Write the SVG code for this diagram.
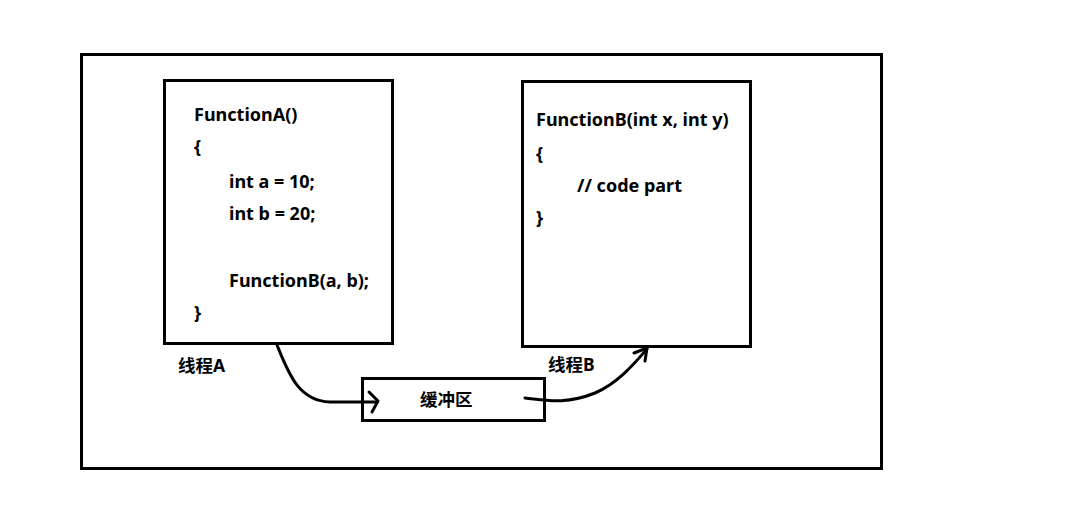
<svg xmlns="http://www.w3.org/2000/svg" width="1066" height="505" viewBox="0 0 1066 505">
<style>
.box{fill:#fff;stroke:#000;stroke-width:3}
.t{font-family:"Noto Sans","Noto Sans CJK SC",sans-serif;font-weight:bold;font-size:18px;fill:#000}
.cj{font-size:17.5px}
.c{fill:none;stroke:#000;stroke-width:3;stroke-linecap:round;stroke-linejoin:round}
</style>
<rect width="1066" height="505" fill="#fff"/>
<g id="frame"><rect class="box" x="81.5" y="54.5" width="800" height="414"/></g>
<g id="funcA">
<rect class="box" x="164.5" y="80.5" width="228" height="263"/>
<text class="t" x="194" y="121">FunctionA()</text>
<text class="t" x="194" y="153">{</text>
<text class="t" x="229" y="188">int a = 10;</text>
<text class="t" x="229" y="220">int b = 20;</text>
<text class="t" x="229" y="287">FunctionB(a, b);</text>
<text class="t" x="194" y="319">}</text>
</g>
<g id="funcB">
<rect class="box" x="522.5" y="81.5" width="228" height="265"/>
<text class="t" x="536" y="126">FunctionB(int x, int y)</text>
<text class="t" x="536" y="160">{</text>
<text class="t" x="577" y="192">// code part</text>
<text class="t" x="536" y="224">}</text>
</g>
<g id="labelA"><text class="t cj" x="178" y="372">线程A</text></g>
<g id="labelB"><text class="t cj" x="548" y="371">线程B</text></g>
<g id="buffer">
<rect class="box" x="362.5" y="378.5" width="182" height="42"/>
<text class="t cj" x="420" y="406">缓冲区</text>
</g>
<g id="connectors">
<path class="c" d="M277,345 C288,372 298,401 330,402 L377,402"/>
<path class="c" d="M369,392 L378,401 L372,412"/>
<path class="c" d="M525,398 C545,400 565,405 595,393 C618,383 634,364 647,349"/>
<path class="c" d="M634,353 L647,348 L645,361"/>
</g>
</svg>
